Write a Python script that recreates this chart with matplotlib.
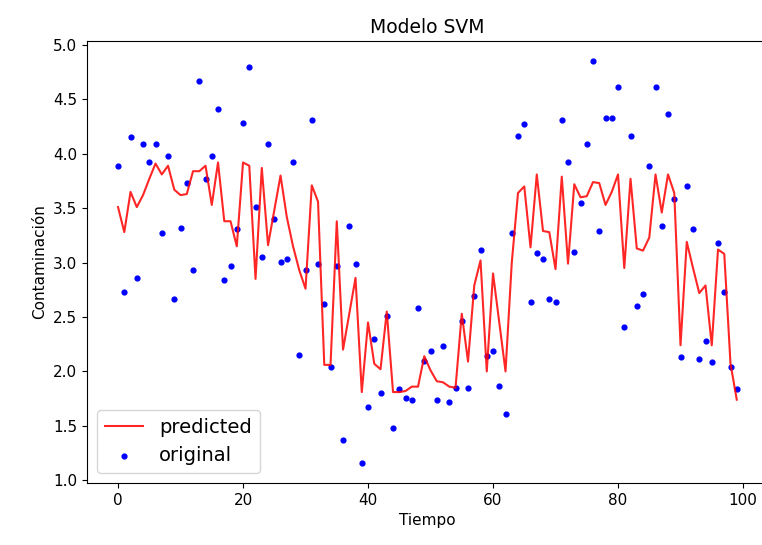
import numpy as np
import matplotlib
matplotlib.use('Agg')
import matplotlib.pyplot as plt

# Valores originales (puntos azules)
original = [3.89, 2.73, 4.15, 2.86, 4.09, 3.92, 4.09, 3.27, 3.98, 2.67,
            3.32, 3.73, 2.93, 4.67, 3.77, 3.98, 4.41, 2.84, 2.97, 3.31,
            4.28, 4.80, 3.51, 3.05, 4.09, 3.40, 3.01, 3.03, 3.92, 2.15,
            2.93, 4.31, 2.99, 2.62, 2.04, 2.97, 1.37, 3.34, 2.99, 1.16,
            1.67, 2.30, 1.80, 2.51, 1.48, 1.84, 1.76, 1.74, 2.58, 2.10,
            2.19, 1.74, 2.23, 1.72, 1.85, 2.46, 1.85, 2.69, 3.12, 2.14,
            2.19, 1.87, 1.61, 3.27, 4.16, 4.27, 2.64, 3.09, 3.03, 2.67,
            2.64, 4.31, 3.92, 3.10, 3.55, 4.09, 4.85, 3.29, 4.33, 4.33,
            4.61, 2.41, 4.16, 2.60, 2.71, 3.89, 4.61, 3.34, 4.37, 3.58,
            2.13, 3.70, 3.31, 2.11, 2.28, 2.09, 3.18, 2.73, 2.04, 1.84]

# Valores predichos por el modelo SVM (línea roja)
predicted = [3.51, 3.28, 3.65, 3.51, 3.62, 3.77, 3.91, 3.81, 3.89, 3.67,
             3.62, 3.63, 3.84, 3.84, 3.89, 3.53, 3.92, 3.38, 3.38, 3.15,
             3.92, 3.89, 2.85, 3.87, 3.16, 3.48, 3.80, 3.42, 3.15, 2.93,
             2.76, 3.71, 3.56, 2.06, 2.06, 3.38, 2.20, 2.53, 2.86, 1.81,
             2.45, 2.07, 2.02, 2.55, 1.81, 1.81, 1.82, 1.86, 1.86, 2.14,
             2.01, 1.91, 1.90, 1.86, 1.85, 2.53, 2.09, 2.79, 3.02, 2.00,
             2.90, 2.45, 2.00, 3.00, 3.64, 3.70, 3.14, 3.81, 3.29, 3.28,
             2.94, 3.79, 2.99, 3.72, 3.60, 3.61, 3.74, 3.73, 3.53, 3.65,
             3.81, 2.95, 3.77, 3.13, 3.11, 3.23, 3.81, 3.46, 3.81, 3.64,
             2.24, 3.19, 2.95, 2.72, 2.79, 2.24, 3.12, 3.08, 2.07, 1.74]

tiempo = list(range(len(original)))

plt.rcParams['font.size'] = 11

fig = plt.figure(figsize=(7.62, 5.45), dpi=100)
# El gráfico original está recortado por la derecha
ax = fig.add_axes([87.1 / 762, 1 - 482.9 / 545, 680.6 / 762, 441.7 / 545])

ax.plot(tiempo, predicted, color='red', alpha=0.85, label='predicted')
ax.scatter(tiempo, original, color='blue', s=12, label='original')

ax.set_title('Modelo SVM', fontsize=13.5)
ax.set_xlabel('Tiempo')
ax.set_ylabel('Contaminación')
ax.legend(loc='lower left', fontsize=14)

fig.savefig('out.png', dpi=100)
